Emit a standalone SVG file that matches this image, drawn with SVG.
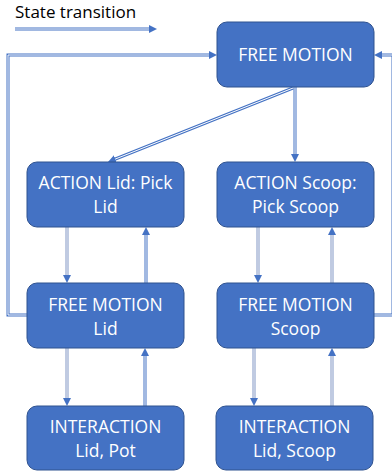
<svg xmlns="http://www.w3.org/2000/svg" width="392" height="475" viewBox="0 0 392 475">
<style>
.box{fill:#4472C4;stroke:#2F528F;stroke-width:1}
.t{fill:#fff;font-family:"Open Sans","Noto Sans",sans-serif;font-size:17.5px;text-anchor:middle}
.o{fill:none;stroke:#4472C4;stroke-width:3}
.g{stroke:#8196C4}
.i{fill:none;stroke:#fff;stroke-width:1}
.lg{fill:#000;font-family:"Open Sans","Noto Sans",sans-serif;font-size:17px}
</style>
<defs>
<marker id="ah" viewBox="0 0 10 10" refX="0" refY="5" markerWidth="8" markerHeight="8" markerUnits="userSpaceOnUse" orient="auto">
<path d="M0,0 L10,5 L0,10 z" fill="#4472C4"/>
</marker>
</defs>
<text class="lg" x="15" y="18">State transition</text>
<g id="connectors">
<path class="o" d="M15,29 H149" marker-end="url(#ah)"/><path class="i" d="M15,29 H149"/>
<path class="o" d="M27,315 H8 V55 H209" marker-end="url(#ah)"/><path class="i" d="M27,315 H8 V55 H209"/>
<path class="o" d="M374,315 H393 V55 H382" marker-end="url(#ah)"/><path class="i" d="M374,315 H393 V55 H382"/>
<path class="o" d="M293,88 L115.4,159" marker-end="url(#ah)"/><path class="i" d="M293,88 L115.4,159"/>
<path class="o" d="M295,87 V154" marker-end="url(#ah)"/><path class="i" d="M295,87 V154"/>
<path class="o g" d="M67,227 V275" marker-end="url(#ah)"/><path class="i" d="M67,227 V275"/>
<path class="o" d="M146,283 V235" marker-end="url(#ah)"/><path class="i" d="M146,283 V235"/>
<path class="o g" d="M258,227 V275" marker-end="url(#ah)"/><path class="i" d="M258,227 V275"/>
<path class="o g" d="M332,283 V235" marker-end="url(#ah)"/><path class="i" d="M332,283 V235"/>
<path class="o g" d="M67,348 V398" marker-end="url(#ah)"/><path class="i" d="M67,348 V398"/>
<path class="o" d="M145,406 V356" marker-end="url(#ah)"/><path class="i" d="M145,406 V356"/>
<path class="o g" d="M254,348 V398" marker-end="url(#ah)"/><path class="i" d="M254,348 V398"/>
<path class="o g" d="M332,406 V356" marker-end="url(#ah)"/><path class="i" d="M332,406 V356"/>
</g>
<g id="free_motion"><rect class="box" x="217" y="22" width="157" height="65" rx="10"/><text class="t" x="295.5" y="61">FREE MOTION</text></g>
<g id="action_lid"><rect class="box" x="27" y="162" width="157" height="65" rx="10"/><text class="t" x="105.5" y="189">ACTION Lid: Pick</text><text class="t" x="105.5" y="213">Lid</text></g>
<g id="action_scoop"><rect class="box" x="217" y="162" width="157" height="65" rx="10"/><text class="t" x="295.5" y="189">ACTION Scoop:</text><text class="t" x="295.5" y="213">Pick Scoop</text></g>
<g id="free_motion_lid"><rect class="box" x="27" y="283" width="157" height="65" rx="10"/><text class="t" x="105.5" y="311">FREE MOTION</text><text class="t" x="105.5" y="335">Lid</text></g>
<g id="free_motion_scoop"><rect class="box" x="217" y="283" width="157" height="65" rx="10"/><text class="t" x="295.5" y="311">FREE MOTION</text><text class="t" x="295.5" y="335">Scoop</text></g>
<g id="interaction_lid_pot"><rect class="box" x="27" y="406" width="157" height="64" rx="10"/><text class="t" x="105.5" y="433">INTERACTION</text><text class="t" x="105.5" y="457">Lid, Pot</text></g>
<g id="interaction_lid_scoop"><rect class="box" x="216" y="406" width="157" height="64" rx="10"/><text class="t" x="294.5" y="433">INTERACTION</text><text class="t" x="294.5" y="457">Lid, Scoop</text></g>
</svg>
